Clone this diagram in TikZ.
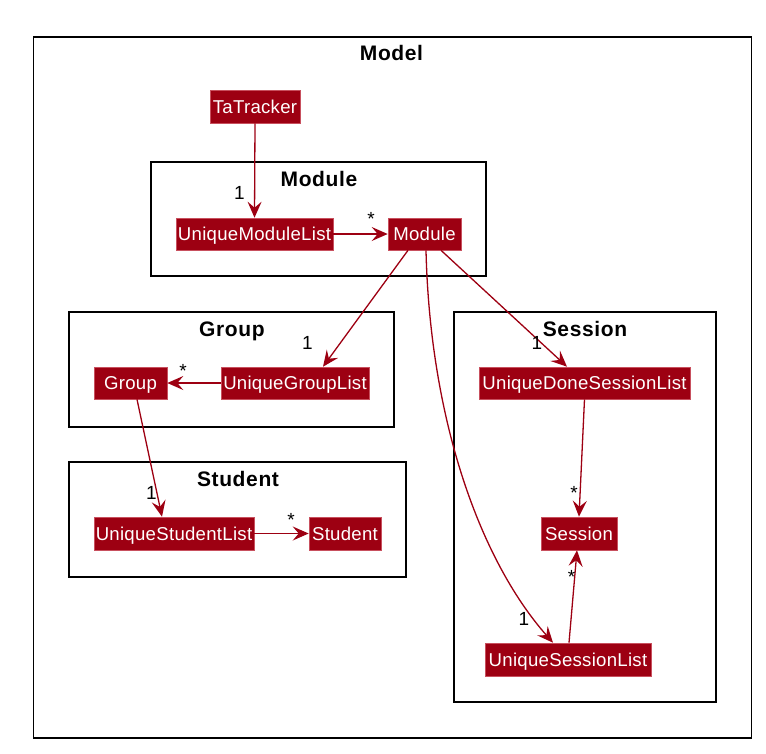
\documentclass[tikz,border=0pt]{standalone}
\usepackage{fontspec}
\setmainfont{Liberation Sans}
\newfontfamily\clsfont[LetterSpace=1.5]{Liberation Sans}
\newfontfamily\titlefont[LetterSpace=3]{Liberation Sans}
\usetikzlibrary{arrows.meta,calc}

\definecolor{modelred}{HTML}{9D0012}
\definecolor{modelborder}{HTML}{C8505E}

\tikzset{
  cls/.style={draw=modelborder, line width=0.6pt, fill=modelred, text=white,
    inner sep=0pt, minimum height=32pt, text height=13.4pt, text depth=0pt,
    font=\clsfont\fontsize{18.6}{18.6}\selectfont},
  pkg/.style={draw=black, line width=1.5pt},
  pkgtitle/.style={anchor=base, inner sep=0pt,
    font=\titlefont\fontsize{21}{21}\selectfont\bfseries},
  assoc/.style={draw=modelred, line width=1.3pt,
    -{Stealth[length=16pt,width=14pt,inset=6pt]}},
  mult/.style={inner sep=0pt, font=\fontsize{19}{19}\selectfont},
}

\begin{document}
\begin{tikzpicture}[x=1pt, y=-1pt]
  \useasboundingbox (0,0) rectangle (766,753);

  % packages
  \draw[pkg] (33.5,37) rectangle (751.5,738);
  \node[pkgtitle] (tmodel) at (391.5,60.7) {Model};

  \draw[pkg] (151,162) rectangle (486,276);
  \node[pkgtitle] (tmodule) at (319,186.7) {Module};

  \draw[pkg] (69,312) rectangle (394,427);
  \node[pkgtitle] (tgroup) at (232,336.7) {Group};

  \draw[pkg] (69,462) rectangle (406,577);
  \node[pkgtitle] (tstudent) at (238,486.7) {Student};

  \draw[pkg] (454,312) rectangle (716,702);
  \node[pkgtitle] (tsession) at (585,336.7) {Session};

  % classes
  \node[cls, minimum width=90pt, minimum height=33pt] (tat) at (255,106.5) {TaTracker};
  \node[cls, minimum width=157pt] (uml) at (254.5,234) {UniqueModuleList};
  \node[cls, minimum width=73pt] (mod) at (424.5,234) {Module};
  \node[cls, minimum width=73pt] (grp) at (130.5,383) {Group};
  \node[cls, minimum width=148pt] (ugl) at (295,383) {UniqueGroupList};
  \node[cls, minimum width=160pt, minimum height=33pt] (usl) at (174,533.5) {UniqueStudentList};
  \node[cls, minimum width=72pt, minimum height=33pt] (stu) at (345,533.5) {Student};
  \node[cls, minimum width=211pt] (udsl) at (584.5,383) {UniqueDoneSessionList};
  \node[cls, minimum width=76pt, minimum height=33pt] (ses) at (579,533.5) {Session};
  \node[cls, minimum width=166pt, minimum height=33pt] (ussl) at (568,659.5) {UniqueSessionList};

  % associations
  \draw[assoc] (tat.south) -- (uml.north);
  \draw[assoc] (uml.east) -- (mod.west);
  \draw[assoc] ($(mod.south)+(-16.5,0)$) -- ($(ugl.north)+(28,0)$);
  \draw[assoc] ($(mod.south)+(16.5,0)$) -- ($(udsl.north)+(-17.5,0)$);
  \draw[assoc] ($(mod.south)+(1.5,0)$) .. controls (430,420) and (480,560) .. ($(ussl.north)+(-15,0)$);
  \draw[assoc] (ugl.west) -- (grp.east);
  \draw[assoc] ($(grp.south)+(6.5,0)$) -- ($(usl.north)+(-12,0)$);
  \draw[assoc] (usl.east) -- (stu.west);
  \draw[assoc] (udsl.south) -- (ses.north);
  \draw[assoc] ($(ussl.north)+(1,0)$) -- ($(ses.south)+(-2,0)$);

  % multiplicities
  \node[mult] (m1) at (239.5,192.5) {1};
  \node[mult] (m2) at (371,219) {*};
  \node[mult] (m3) at (307.5,343) {1};
  \node[mult] (m4) at (537,343) {1};
  \node[mult] (m5) at (524,619) {1};
  \node[mult] (m6) at (183,371) {*};
  \node[mult] (m7) at (151.5,493) {1};
  \node[mult] (m8) at (291,520) {*};
  \node[mult] (m9) at (574,493) {*};
  \node[mult] (m10) at (571.5,577) {*};
\end{tikzpicture}
\end{document}
